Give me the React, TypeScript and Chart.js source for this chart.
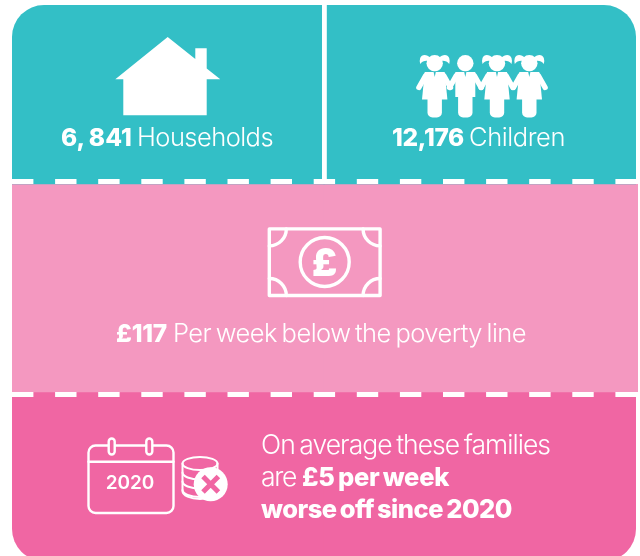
import React, { useEffect, useRef } from "react";
import { Chart, registerables } from "chart.js";

Chart.register(...registerables);

const CATEGORIES = ["Households", "Children"];
const TOP_MARGIN = [5, 5];
const TEAL_BAND = [179, 179];
const LIGHT_BAND = [208, 208];
const DARK_BAND = [169, 169];
const TEAL = "#33bfc6";
const LIGHT = "#f498c0";
const DARK = "#f066a3";
const WHITE = "#ffffff";
const LIGHT_FONT = "Inter";

type Run = [string, number, number, number, boolean, number];
const TEXT_RUNS: Run[] = [
  ["6, 841", 61, 146, 71, true, 24.5],
  ["Households", 137, 146, 136, false, 25.5],
  ["12,176", 392, 146, 72, true, 24.5],
  ["Children", 469, 146, 96, false, 25.5],
  ["£117", 116, 342, 51, true, 24.5],
  ["Per week below the poverty line", 173, 342, 353, false, 25.5],
  ["On average these families", 261, 454, 289, false, 26.5],
  ["are", 261, 486, 35, false, 26.5],
  ["£5 per week", 302, 486, 147, true, 25.5],
  ["worse off since 2020", 261, 518, 251, true, 25.5],
];

function drawRuns(ctx: CanvasRenderingContext2D) {
  ctx.fillStyle = WHITE;
  ctx.textAlign = "left";
  ctx.textBaseline = "alphabetic";
  for (const [text, x, y, w, bold, size] of TEXT_RUNS) {
    ctx.font = `${bold ? 800 : 300} ${size}px ${LIGHT_FONT}`;
    (ctx as any).letterSpacing = "0px";
    (ctx as any).wordSpacing = "-2px";
    const m = ctx.measureText(text).width;
    (ctx as any).letterSpacing = `${(w - m) / text.length}px`;
    ctx.fillText(text, x, y);
  }
  (ctx as any).letterSpacing = "0px";
  (ctx as any).wordSpacing = "0px";
}

function drawHouse(c: CanvasRenderingContext2D) {
  c.fillStyle = WHITE;
  c.beginPath();
  c.moveTo(167.7, 37);
  c.lineTo(195.3, 59);
  c.lineTo(195.3, 48.3);
  c.lineTo(206.7, 48.3);
  c.lineTo(206.7, 68.4);
  c.lineTo(220.3, 79.3);
  c.lineTo(206.7, 79.3);
  c.lineTo(206.7, 115.3);
  c.lineTo(123.3, 115.3);
  c.lineTo(123.3, 79.3);
  c.lineTo(115.3, 79.3);
  c.closePath();
  c.fill();
}

function drawChild(c: CanvasRenderingContext2D, x: number, girl: boolean) {
  c.fillStyle = WHITE;
  c.strokeStyle = WHITE;
  c.beginPath();
  c.arc(x, 63.3, 8.2, 0, Math.PI * 2);
  c.fill();
  if (girl) {
    for (const s of [-1, 1]) {
      c.beginPath();
      c.moveTo(x + s * 4, 58);
      c.bezierCurveTo(x + s * 8, 54, x + s * 13, 54, x + s * 14.5, 58);
      c.quadraticCurveTo(x + s * 15.5, 61, x + s * 14.5, 64);
      c.quadraticCurveTo(x + s * 11.5, 60, x + s * 6, 61);
      c.closePath();
      c.fill();
    }
  }
  c.beginPath();
  if (girl) {
    c.moveTo(x - 10, 72);
    c.lineTo(x + 10, 72);
    c.lineTo(x + 12.7, 99.5);
    c.lineTo(x - 12.7, 99.5);
  } else {
    c.moveTo(x - 10, 72);
    c.lineTo(x + 10, 72);
    c.lineTo(x + 10, 97);
    c.lineTo(x - 10, 97);
  }
  c.closePath();
  c.fill();
  c.beginPath();
  (c as any).roundRect(x - 7.2, 92, 14.4, 25.5, 5);
  c.fill();
  c.lineCap = "round";
  c.lineWidth = 5.4;
  for (const s of [-1, 1]) {
    c.beginPath();
    c.moveTo(x + s * 9, 75.5);
    c.lineTo(x + s * 15.8, 87.5);
    c.stroke();
  }
  c.fillStyle = TEAL;
  c.beginPath();
  c.moveTo(x - 1.2, 71.5);
  c.lineTo(x + 1.2, 71.5);
  c.lineTo(x, 77);
  c.closePath();
  c.fill();
}

function drawBanknote(c: CanvasRenderingContext2D) {
  c.strokeStyle = WHITE;
  c.lineWidth = 3.4;
  c.lineJoin = "round";
  c.strokeRect(269.3, 228.9, 110.8, 66.6);
  c.beginPath();
  c.arc(324.7, 262, 24.5, 0, Math.PI * 2);
  c.stroke();
  const corners: [number, number, number, number][] = [
    [269.3, 228.9, 0, Math.PI / 2],
    [380.1, 228.9, Math.PI / 2, Math.PI],
    [380.1, 295.5, Math.PI, Math.PI * 1.5],
    [269.3, 295.5, Math.PI * 1.5, Math.PI * 2],
  ];
  for (const [x, y, a, b] of corners) {
    c.beginPath();
    c.arc(x, y, 17, a, b);
    c.stroke();
  }
  c.fillStyle = WHITE;
  c.font = "900 38px Inter";
  c.textAlign = "center";
  c.textBaseline = "alphabetic";
  c.fillText("£", 324.7, 275.5);
}

function drawCalendar(c: CanvasRenderingContext2D) {
  c.strokeStyle = WHITE;
  c.lineWidth = 2.4;
  c.beginPath();
  (c as any).roundRect(88.5, 445.5, 85, 67.5, 7);
  c.stroke();
  c.beginPath();
  c.moveTo(88.5, 461.7);
  c.lineTo(173.5, 461.7);
  c.stroke();
  for (const x of [111.7, 149.3]) {
    c.fillStyle = DARK;
    c.beginPath();
    (c as any).roundRect(x - 3, 438.5, 6, 16, 3);
    c.fill();
    c.stroke();
  }
  c.fillStyle = WHITE;
  c.font = "600 19px Inter";
  c.textAlign = "center";
  c.textBaseline = "alphabetic";
  c.fillText("2020", 130, 489);
}

function drawCoins(c: CanvasRenderingContext2D) {
  c.strokeStyle = WHITE;
  c.lineWidth = 2;
  c.beginPath();
  c.ellipse(200, 463.5, 17.5, 6.5, 0, 0, Math.PI * 2);
  c.stroke();
  c.beginPath();
  c.moveTo(182.5, 463.5);
  c.lineTo(182.5, 491);
  c.ellipse(200, 491, 17.5, 8, 0, Math.PI, 0, true);
  c.stroke();
  c.beginPath();
  c.moveTo(217.5, 463.5);
  c.lineTo(217.5, 475);
  c.stroke();
  for (const y of [472.5, 481.5, 490]) {
    c.beginPath();
    c.ellipse(200, y, 17.5, 7, 0, Math.PI, 0, true);
    c.stroke();
  }
  c.fillStyle = WHITE;
  c.beginPath();
  c.arc(210.7, 484.3, 17, 0, Math.PI * 2);
  c.fill();
  c.strokeStyle = DARK;
  c.lineWidth = 5;
  c.lineCap = "butt";
  c.beginPath();
  c.moveTo(203, 476.6);
  c.lineTo(218.4, 492);
  c.moveTo(218.4, 476.6);
  c.lineTo(203, 492);
  c.stroke();
}

function drawDashes(c: CanvasRenderingContext2D, y: number, h: number) {
  c.fillStyle = WHITE;
  for (let x = 12; x < 638; x += 43.1) c.fillRect(x, y, 21.4, h);
}

const decoration = {
  id: "decoration",
  beforeDatasetsDraw(chart: any) {
    const c = chart.ctx as CanvasRenderingContext2D;
    const { y } = chart.scales;
    const left = chart.chartArea.left;
    const right = chart.chartArea.right;
    const top = y.getPixelForValue(TOP_MARGIN[0]);
    const bottom = y.getPixelForValue(TOP_MARGIN[0] + TEAL_BAND[0] + LIGHT_BAND[0] + DARK_BAND[0]);
    c.save();
    c.beginPath();
    (c as any).roundRect(left, top, right - left, bottom - top, 32);
    c.clip();
  },
  afterDatasetsDraw(chart: any) {
    const c = chart.ctx as CanvasRenderingContext2D;
    const { x, y } = chart.scales;
    c.restore();
    c.save();
    const t0 = y.getPixelForValue(TOP_MARGIN[0]);
    const t1 = y.getPixelForValue(TOP_MARGIN[0] + TEAL_BAND[0]);
    const t2 = y.getPixelForValue(TOP_MARGIN[0] + TEAL_BAND[0] + LIGHT_BAND[0]);
    const mid = (x.getPixelForValue(0) + x.getPixelForValue(1)) / 2;
    c.fillStyle = LIGHT;
    c.fillRect(chart.chartArea.right, t1, 2, t2 - t1);
    c.fillStyle = WHITE;
    c.fillRect(mid - 2, t0, 4.8, t1 - t0);
    drawDashes(c, t1 - 5, 5);
    drawDashes(c, t2, 5);
    drawHouse(c);
    [434.7, 465.3, 497, 529.3].forEach((cx, i) => drawChild(c, cx, i !== 1));
    drawBanknote(c);
    drawCalendar(c);
    drawCoins(c);
    drawRuns(c);
    c.restore();
  },
};

export default function App() {
  const ref = useRef<HTMLCanvasElement>(null);
  useEffect(() => {
    document.body.style.margin = "0";
    document.body.style.background = "#fff";
    const chart = new Chart(ref.current!, {
      type: "bar",
      data: {
        labels: CATEGORIES,
        datasets: [
          { label: "margin", data: TOP_MARGIN, backgroundColor: "rgba(0,0,0,0)" },
          { label: "Teal", data: TEAL_BAND, backgroundColor: TEAL },
          { label: "Light", data: LIGHT_BAND, backgroundColor: LIGHT },
          { label: "Dark", data: DARK_BAND, backgroundColor: DARK },
        ],
      },
      options: {
        responsive: false,
        animation: false,
        events: [],
        clip: false,
        layout: { padding: { left: 12, right: 4, top: 0, bottom: 0 } },
        plugins: { legend: { display: false }, tooltip: { enabled: false }, title: { display: false } },
        datasets: { bar: { categoryPercentage: 1, barPercentage: 1, borderWidth: 0 } },
        scales: {
          x: { stacked: true, display: false },
          y: { stacked: true, display: false, reverse: true, min: 0, max: 556 },
        },
      } as any,
      plugins: [decoration],
    });
    return () => chart.destroy();
  }, []);
  return <canvas ref={ref} width={640} height={556} style={{ display: "block" }} />;
}
